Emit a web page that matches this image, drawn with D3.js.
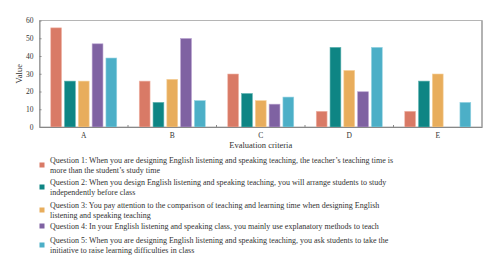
<!DOCTYPE html>
<html>
<head>
<meta charset="utf-8">
<script src="https://cdn.jsdelivr.net/npm/d3@7"></script>
<style>
  body { margin: 0; background: #fff; }
  svg text { font-family: "Liberation Serif", "DejaVu Serif", serif; fill: #333; }
</style>
</head>
<body>
<div id="vis"></div>
<script>
// categories, series, values
const criteria = ['A', 'B', 'C', 'D', 'E']
const questions = ['Q1', 'Q2', 'Q3', 'Q4', 'Q5']
const q1 = [56, 26, 30, 9, 9]
const q2 = [26, 14, 19, 45, 26]
const q3 = [26, 27, 15, 32, 30]
const q4 = [47, 50, 13, 20, 0]
const q5 = [39, 15, 17, 45, 14]
const yTicks = [0, 10, 20, 30, 40, 50, 60]
const legendLines = [
    ['Question 1: When you are designing English listening and speaking teaching, the teacher\u2019s teaching time is', 'more than the student\u2019s study time'],
    ['Question 2: When you design English listening and speaking teaching, you will arrange students to study', 'independently before class'],
    ['Question 3: You pay attention to the comparison of teaching and learning time when designing English', 'listening and speaking teaching'],
    ['Question 4: In your English listening and speaking class, you mainly use explanatory methods to teach'],
    ['Question 5: When you are designing English listening and speaking teaching, you ask students to take the', 'initiative to raise learning difficulties in class']
]

const series = [q1, q2, q3, q4, q5]
const colors = ['#d97a66', '#0e8584', '#e8ad5c', '#7f62a2', '#4cafc7']
const strokes = ['#f0b7aa', '#5fb3b1', '#f5d19c', '#b7a1cf', '#94d3e2']

////////////////////////////////////////
////////////// SVG Setup ///////////////
////////////////////////////////////////

const W = 500, H = 272
const margin = { top: 20.5, right: 18, bottom: 145, left: 39.5 }
const width = W - margin.left - margin.right
const height = 127 - margin.top

const svg = d3.select('#vis').append('svg')
    .attr('width', W)
    .attr('height', H)

const g = svg.append('g')
    .attr('transform', `translate(${margin.left}, ${margin.top})`)

////////////////////////////////////////
////////////// Scales //////////////////
////////////////////////////////////////

const x0 = d3.scaleBand().domain(criteria).range([0, width])
const x1 = d3.scaleBand().domain(questions)
    .range([11, x0.bandwidth() - 11])
    .paddingInner(0.18)
const y = d3.scaleLinear().domain([0, 60]).range([height, 0])

// frame
g.append('rect')
    .attr('x', 0).attr('y', 0)
    .attr('width', width).attr('height', height)
    .attr('fill', 'none')
    .attr('stroke', '#b5b5b5')
    .attr('stroke-width', 1)
g.append('line')
    .attr('x1', width).attr('x2', width)
    .attr('y1', 0).attr('y2', height)
    .attr('stroke', '#a8a8a8').attr('stroke-width', 1.6)

////////////////////////////////////////
////////////// Bars ////////////////////
////////////////////////////////////////

const groups = g.selectAll('.grp')
    .data(criteria)
    .join('g')
    .attr('class', 'grp')
    .attr('transform', d => `translate(${x0(d)},0)`)

groups.selectAll('rect')
    .data((c, i) => series.map((s, j) => ({ q: questions[j], v: s[i], j: j })).filter(d => d.v > 0))
    .join('rect')
    .attr('x', d => x1(d.q) + 0.25)
    .attr('width', x1.bandwidth() - 0.5)
    .attr('y', d => y(d.v) + 0.25)
    .attr('height', d => height - y(d.v) - 0.25)
    .attr('fill', d => colors[d.j])
    .attr('stroke', d => strokes[d.j])
    .attr('stroke-width', 0.6)

////////////////////////////////////////
////////////// Axes ////////////////////
////////////////////////////////////////

const yAxis = g.append('g')
    .call(d3.axisLeft(y).tickValues(yTicks).tickSizeInner(-2).tickSizeOuter(0).tickPadding(6))
yAxis.select('.domain').attr('stroke', '#888')
yAxis.selectAll('.tick line').attr('stroke', '#888')
yAxis.selectAll('text').attr('font-size', 7.5).attr('fill', '#444')

const xAxis = g.append('g')
    .attr('transform', `translate(0, ${height})`)
    .call(d3.axisBottom(x0).tickSize(0).tickPadding(6))
xAxis.select('.domain').attr('stroke', '#888')
xAxis.selectAll('text').attr('font-size', 7.5).attr('fill', '#444')

// small separators between groups
g.selectAll('.sep')
    .data(criteria.slice(1))
    .join('line')
    .attr('class', 'sep')
    .attr('x1', d => x0(d)).attr('x2', d => x0(d))
    .attr('y1', height).attr('y2', height - 2)
    .attr('stroke', '#888')

g.append('text')
    .attr('x', width / 2)
    .attr('y', height + 21)
    .attr('text-anchor', 'middle')
    .attr('font-size', 8.5)
    .text('Evaluation criteria')

g.append('text')
    .attr('transform', `translate(-18, ${height / 2}) rotate(-90)`)
    .attr('text-anchor', 'middle')
    .attr('font-size', 8.5)
    .text('Value')

////////////////////////////////////////
////////////// Legend //////////////////
////////////////////////////////////////

const legendTop = [160, 182, 205, 226, 240]
const legend = svg.append('g')

legendLines.forEach((lines, i) => {
    const y0 = legendTop[i]
    const yc = y0 + (lines.length - 1) * 5
    legend.append('rect')
        .attr('x', 39.5).attr('y', yc - 2.5)
        .attr('width', 5).attr('height', 5)
        .attr('fill', colors[i])
    lines.forEach((t, k) => {
        legend.append('text')
            .attr('x', 50)
            .attr('y', y0 + k * 10)
            .attr('dy', '0.35em')
            .attr('font-size', 8)
            .text(t)
    })
})
</script>
</body>
</html>
